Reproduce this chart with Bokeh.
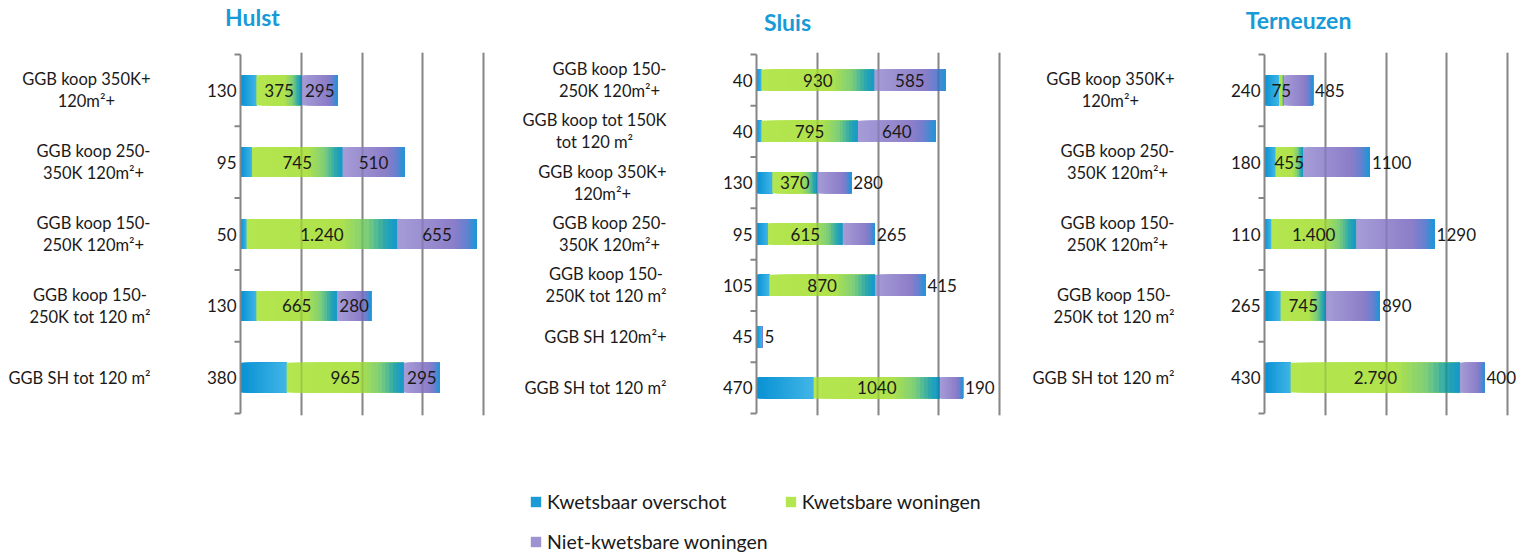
import math
from bokeh.plotting import figure
from bokeh.models import (Range1d, FixedTicker, Grid, LabelSet, ColumnDataSource, Legend,
                          LegendItem)
from bokeh.layouts import row, column
from bokeh.core.properties import value
from bokeh.embed import file_html
from bokeh.resources import INLINE

# ---------------- data ----------------
series_names = ["Kwetsbaar overschot", "Kwetsbare woningen", "Niet-kwetsbare woningen"]

hulst_categories = ["GGB koop 350K+\n120m²+", "GGB koop 250-\n350K 120m²+",
                    "GGB koop 150-\n250K 120m²+", "GGB koop 150-\n250K tot 120 m²",
                    "GGB SH tot 120 m²"]
hulst_overschot = [130, 95, 50, 130, 380]
hulst_kwetsbaar = [375, 745, 1240, 665, 965]
hulst_niet = [295, 510, 655, 280, 295]

sluis_categories = ["GGB koop 150-\n250K 120m²+", "GGB koop tot 150K\ntot 120 m²",
                    "GGB koop 350K+\n120m²+", "GGB koop 250-\n350K 120m²+",
                    "GGB koop 150-\n250K tot 120 m²", "GGB SH 120m²+", "GGB SH tot 120 m²"]
sluis_overschot = [40, 40, 130, 95, 105, 45, 470]
sluis_kwetsbaar = [930, 795, 370, 615, 870, 0, 1040]
sluis_niet = [585, 640, 280, 265, 415, 5, 190]

terneuzen_categories = ["GGB koop 350K+\n120m²+", "GGB koop 250-\n350K 120m²+",
                        "GGB koop 150-\n250K 120m²+", "GGB koop 150-\n250K tot 120 m²",
                        "GGB SH tot 120 m²"]
terneuzen_overschot = [240, 180, 110, 265, 430]
terneuzen_kwetsbaar = [75, 455, 1400, 745, 2790]
terneuzen_niet = [485, 1100, 1290, 890, 400]

# ---------------- style / layout ----------------
FONT = "Lato"
TEXT = "#1a1a1a"
TITLE_COLOR = "#189ad7"
AXIS_GRAY = "#868686"
TITLE_H = 46
PANEL_H = 402          # page y 46 .. 448
LEGEND_H = 108         # page y 448 .. 556
FRAME_W = 243          # pixel width of the value axis (0 .. xmax)

GRAD = [
    [(0.0, (8, 145, 211)), (1.0, (66, 182, 231))],
    [(0.0, (180, 230, 80)), (0.62, (176, 226, 76)), (0.80, (125, 206, 122)),
     (0.93, (37, 164, 176)), (1.0, (21, 152, 207))],
    [(0.0, (166, 157, 215)), (0.70, (141, 126, 200)), (0.86, (105, 128, 207)),
     (1.0, (26, 151, 216))],
]
LEGEND_COLORS = ["#1a9bd7", "#b4e650", "#9d93d3"]


def grad_color(stops, t):
    for (t0, c0), (t1, c1) in zip(stops[:-1], stops[1:]):
        if t <= t1:
            f = 0 if t1 == t0 else (t - t0) / (t1 - t0)
            c = [round(a + (b - a) * f) for a, b in zip(c0, c1)]
            return "#%02x%02x%02x" % tuple(c)
    return "#%02x%02x%02x" % stops[-1][1]


def fmt(v, sep):
    return f"{v:,}".replace(",", ".") if sep else str(v)


def make_panel(cats, s1, s2, s3, xmax, step, sep, inside3, geo):
    n = len(cats)
    ymid = [i + 0.5 for i in range(n)]
    # horizontal: whole figure is the frame, value 0 sits at axis_px
    upx = xmax / FRAME_W
    xr = Range1d(-geo["axis_px"] * upx, (geo["w"] - geo["axis_px"]) * upx)
    # vertical: rows occupy [row_top, row_bot] (page px), frame 2 px larger
    ft, fb = geo["row_top"] - 2, geo["row_bot"] + 2
    uy = n / (geo["row_bot"] - geo["row_top"])
    yr = Range1d(n + 2 * uy, -2 * uy)
    p = figure(width=geo["w"], height=PANEL_H, x_range=xr, y_range=yr,
               x_axis_location=None, y_axis_location=None, toolbar_location=None,
               output_backend="svg", min_border=0, min_border_top=ft - TITLE_H,
               min_border_bottom=TITLE_H + PANEL_H - fb, outline_line_color=None)
    p.grid.visible = False
    ticks = [step * k for k in range(1, int(xmax / step) + 1)]
    p.add_layout(Grid(dimension=0, ticker=FixedTicker(ticks=ticks), grid_line_color="#9a9a9a",
                      grid_line_width=2))

    starts = [[0] * n, list(s1), [a + b for a, b in zip(s1, s2)]]
    vals = [s1, s2, s3]
    K = 32
    for si in range(3):
        ys, ls, rs, cs = [], [], [], []
        for yi, l0, v in zip(ymid, starts[si], vals[si]):
            if v <= 0:
                continue
            for k in range(K):
                ys.append(yi)
                ls.append(l0 + v * k / K)
                rs.append(l0 + v)
                cs.append(grad_color(GRAD[si], (k + 0.5) / K))
        src = ColumnDataSource(dict(y=ys, left=ls, right=rs, color=cs))
        p.hbar(y="y", left="left", right="right", height=0.415, source=src,
               fill_color="color", line_color=None)

    p.add_layout(Grid(dimension=0, ticker=FixedTicker(ticks=ticks), grid_line_color="black",
                      grid_line_alpha=0.12, grid_line_width=2, level="overlay"))

    # category axis line and boundary ticks
    p.segment(x0=[0], y0=[0], x1=[0], y1=[n], line_color=AXIS_GRAY, line_width=2)
    p.ray(x=[0] * (n + 1), y=list(range(n + 1)), length=6, length_units="screen",
          angle=math.pi, line_color=AXIS_GRAY, line_width=2)

    # category labels
    p.text(x=[0] * n, y=ymid, text=cats, anchor="center_right", text_align="center",
           text_baseline="middle", x_offset=-90, text_font=value(FONT),
           text_font_size="16.5px", text_line_height=1.1, text_color=TEXT)

    lab_kw = dict(text_font=value(FONT), text_font_size="17px", text_color=TEXT,
                  text_baseline="middle")
    src1 = ColumnDataSource(dict(x=[0] * n, y=ymid, t=[fmt(v, False) for v in s1]))
    p.add_layout(LabelSet(x="x", y="y", text="t", source=src1, text_align="right",
                          x_offset=-4, **lab_kw))
    idx = [i for i in range(n) if s2[i] > 0]
    src2 = ColumnDataSource(dict(x=[s1[i] + s2[i] / 2 for i in idx], y=[ymid[i] for i in idx],
                                 t=[fmt(s2[i], sep[1]) for i in idx]))
    p.add_layout(LabelSet(x="x", y="y", text="t", source=src2, text_align="center", **lab_kw))
    inn = [i for i in range(n) if i in inside3]
    out = [i for i in range(n) if i not in inside3]
    if inn:
        src3a = ColumnDataSource(dict(x=[s1[i] + s2[i] + s3[i] / 2 for i in inn],
                                      y=[ymid[i] for i in inn],
                                      t=[fmt(s3[i], sep[2]) for i in inn]))
        p.add_layout(LabelSet(x="x", y="y", text="t", source=src3a, text_align="center",
                              **lab_kw))
    if out:
        src3b = ColumnDataSource(dict(x=[s1[i] + s2[i] + s3[i] for i in out],
                                      y=[ymid[i] for i in out],
                                      t=[fmt(s3[i], sep[2]) for i in out]))
        p.add_layout(LabelSet(x="x", y="y", text="t", source=src3b, text_align="left",
                              x_offset=2, **lab_kw))
    return p


def make_title(text, w, dy):
    t = figure(width=w, height=TITLE_H, x_range=Range1d(0, 1), y_range=Range1d(0, 1),
               x_axis_location=None, y_axis_location=None, toolbar_location=None,
               output_backend="svg", min_border=0, outline_line_color=None)
    t.grid.visible = False
    t.text(x=[0.5], y=[0.5], text=[text], text_align="center", text_baseline="middle",
           y_offset=dy, text_font=value(FONT), text_font_size="23px",
           text_font_style="bold", text_color=TITLE_COLOR)
    return t


p1 = make_panel(hulst_categories, hulst_overschot, hulst_kwetsbaar, hulst_niet,
                2000, 500, (False, True, False), {0, 1, 2, 3, 4},
                dict(w=500, axis_px=240, row_top=54, row_bot=417))
p2 = make_panel(sluis_categories, sluis_overschot, sluis_kwetsbaar, sluis_niet,
                2000, 500, (False, False, False), {0, 1},
                dict(w=510, axis_px=256, row_top=51, row_bot=433))
p3 = make_panel(terneuzen_categories, terneuzen_overschot, terneuzen_kwetsbaar,
                terneuzen_niet, 4000, 1000, (False, True, False), set(),
                dict(w=516, axis_px=254, row_top=53, row_bot=413))

t1 = make_title("Hulst", 504, -7)
t2 = make_title("Sluis", 566, -2)
t3 = make_title("Terneuzen", 456, -4)

leg = figure(width=1526, height=LEGEND_H, x_range=Range1d(0, 1), y_range=Range1d(0, 1),
             x_axis_location=None, y_axis_location=None, toolbar_location=None,
             output_backend="svg", min_border=0, outline_line_color=None)
leg.grid.visible = False
items = []
for name, col in zip(series_names, LEGEND_COLORS):
    r = leg.hbar(y=[0.5], left=[0], right=[0], height=0.5, fill_color=col, line_color=None)
    items.append(LegendItem(label=name, renderers=[r]))
legend = Legend(items=items, location=(529, 3), orientation="horizontal", ncols=2,
                glyph_width=13, glyph_height=13, label_standoff=5, spacing=16, padding=0,
                margin=0, border_line_alpha=0, background_fill_alpha=0,
                label_text_font=FONT, label_text_font_size="19.5px", label_height=24,
                label_text_color=TEXT)
leg.add_layout(legend)

layout = column(row(t1, t2, t3), row(p1, p2, p3), leg)
open("out.html", "w").write(file_html(layout, INLINE))
